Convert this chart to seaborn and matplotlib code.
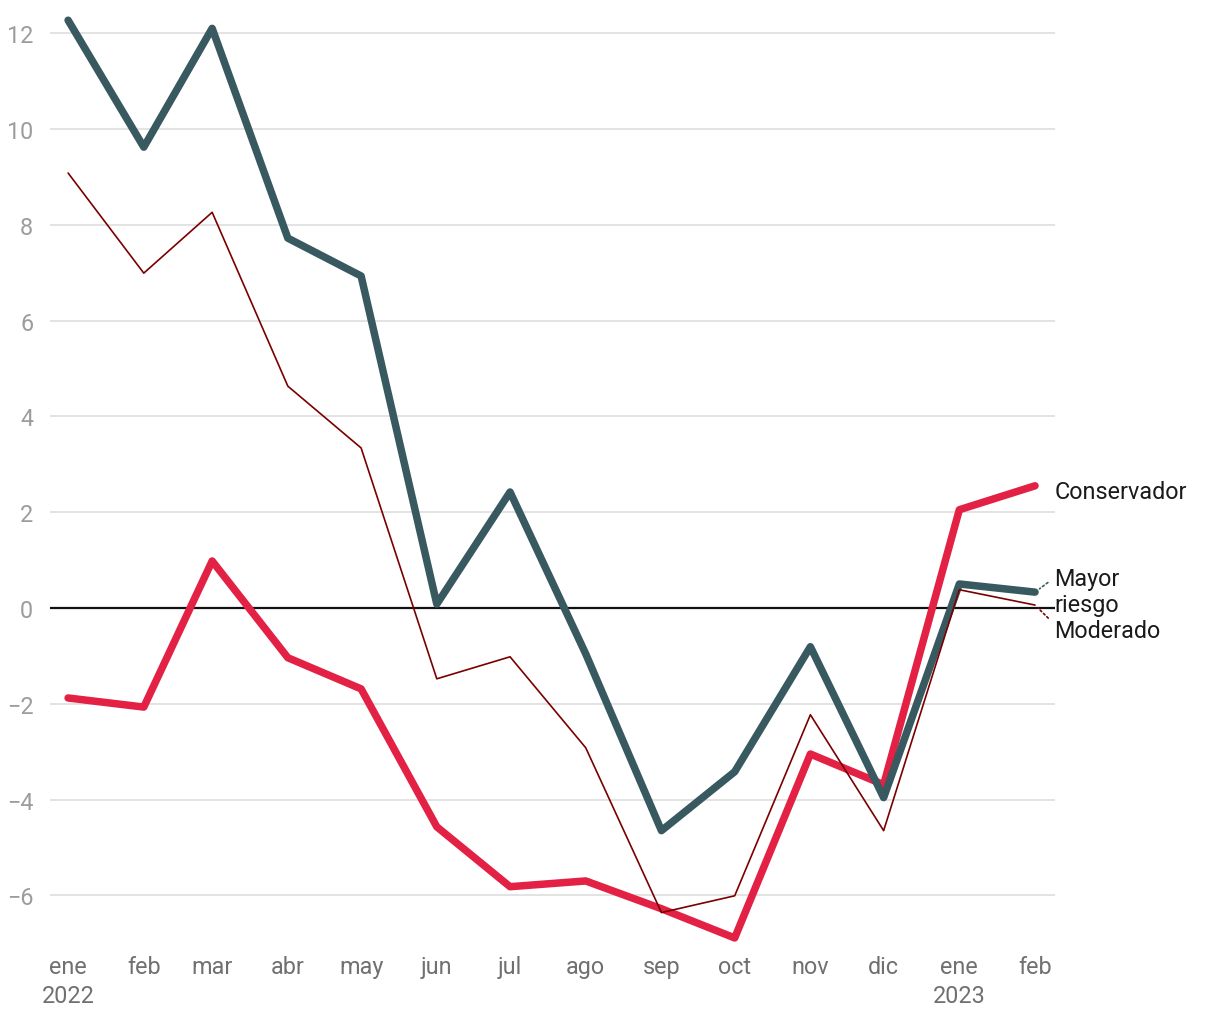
import matplotlib
matplotlib.use("Agg")
import matplotlib.pyplot as plt
import matplotlib.dates as mdates
import seaborn as sns
import pandas as pd
import numpy as np

months = pd.date_range("2022-01-01", "2023-02-01", freq="MS")
tick_labels = ["ene\n2022", "feb", "mar", "abr", "may", "jun", "jul", "ago",
               "sep", "oct", "nov", "dic", "ene\n2023", "feb"]

mayor_riesgo = [12.27, 9.62, 12.10, 7.72, 6.93, 0.08, 2.42, -0.96, -4.65, -3.42,
                -0.81, -3.96, 0.50, 0.33]
moderado = [9.08, 6.99, 8.26, 4.63, 3.34, -1.48, -1.02, -2.92, -6.36, -6.01,
            -2.23, -4.65, 0.38, 0.06]
conservador = [-1.88, -2.07, 0.98, -1.04, -1.69, -4.57, -5.82, -5.70, -6.28, -6.89,
               -3.05, -3.69, 2.05, 2.55]

series_names = ["Conservador", "Mayor riesgo", "Moderado"]
series_values = [conservador, mayor_riesgo, moderado]
colors = {"Conservador": "#E32144", "Mayor riesgo": "#37595F", "Moderado": "#7A0000"}
widths = {"Conservador": 5.4, "Mayor riesgo": 5.4, "Moderado": 1.2}

df = pd.concat([pd.DataFrame({"fecha": months, "valor": v, "serie": n})
                for n, v in zip(series_names, series_values)], ignore_index=True)

sns.set_theme(style="white")
plt.rcParams["font.family"] = ["Roboto", "DejaVu Sans"]

fig = plt.figure(figsize=(12.2, 10.2), dpi=100)
ax = fig.add_axes([0.041, 0.0696, 0.8238, 0.9157])

ax.set_ylim(-7.1, 12.4)
ax.set_xlim(months[0] - pd.Timedelta(days=7.4), months[-1] + pd.Timedelta(days=8.2))

for y in [-6, -4, -2, 2, 4, 6, 8, 10, 12]:
    ax.axhline(y, color="#e3e3e3", lw=1.4, zorder=0)
ax.axhline(0, color="#111111", lw=1.6, zorder=1)

for n in series_names:
    sub = df[df["serie"] == n]
    sns.lineplot(data=sub, x="fecha", y="valor", ax=ax, color=colors[n],
                 lw=widths[n], legend=False, zorder=3,
                 solid_capstyle="round", solid_joinstyle="round")

fs = 16.8
ax.set_yticks([-6, -4, -2, 0, 2, 4, 6, 8, 10, 12])
ax.set_yticklabels(["\u22126", "\u22124", "\u22122", "0", "2", "4", "6", "8", "10", "12"])
ax.set_xticks(months)
ax.set_xticklabels(tick_labels, linespacing=1.35)
ax.tick_params(axis="y", length=0, pad=12, labelsize=fs, labelcolor="#9c9c9c")
ax.tick_params(axis="x", length=0, pad=5, labelsize=fs, labelcolor="#707070")
for s in ax.spines.values():
    s.set_visible(False)
ax.set_xlabel("")
ax.set_ylabel("")
ax.grid(False)

last = months[-1]
ax.annotate("Conservador", xy=(last, conservador[-1]), xytext=(14, -4),
            textcoords="offset points", ha="left", va="center",
            fontsize=fs, color="#1a1a1a")
ax.annotate("Mayor\nriesgo", xy=(last, mayor_riesgo[-1]), xytext=(14, 0.5),
            textcoords="offset points", ha="left", va="center",
            fontsize=fs, color="#1a1a1a", linespacing=1.18,
            arrowprops=dict(arrowstyle="-", linestyle=(0, (1.2, 1.6)), lw=1.2,
                            color=colors["Mayor riesgo"], relpos=(0, 0.78),
                            shrinkA=3, shrinkB=4))
ax.annotate("Moderado", xy=(last, moderado[-1]), xytext=(14, -18),
            textcoords="offset points", ha="left", va="center",
            fontsize=fs, color="#1a1a1a",
            arrowprops=dict(arrowstyle="-", linestyle=(0, (1.2, 1.6)), lw=1.2,
                            color=colors["Moderado"], relpos=(0, 0.75),
                            shrinkA=3, shrinkB=3))

fig.savefig("out.png", dpi=100)
